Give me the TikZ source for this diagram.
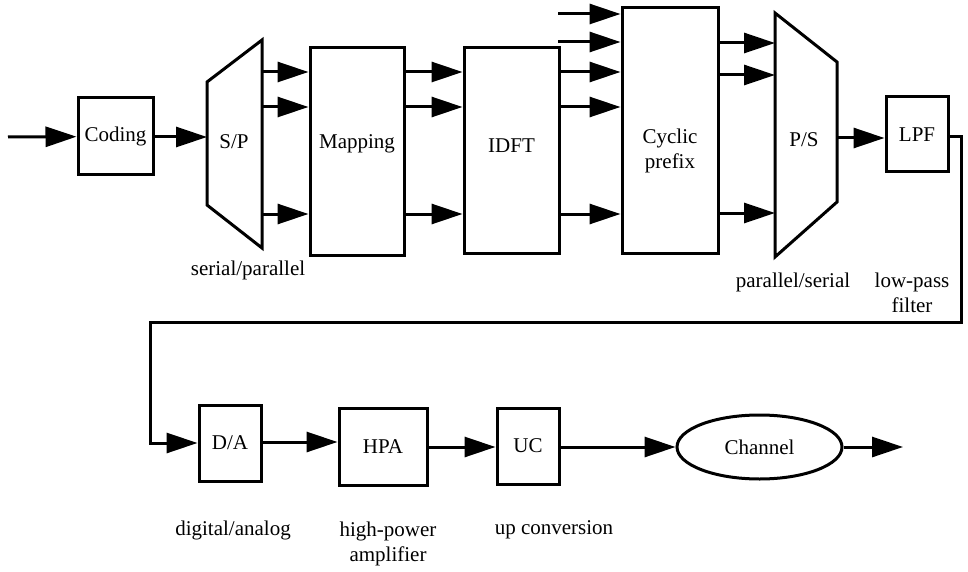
\documentclass[tikz,border=0pt]{standalone}
\usepackage{fontspec}
\setmainfont{Liberation Serif}
\usetikzlibrary{arrows.meta,shapes.geometric,calc}

\begin{document}
\begin{tikzpicture}[x=1pt,y=-1pt,
  every node/.style={font=\fontsize{21}{25}\selectfont},
  box/.style={draw,line width=3pt,inner sep=0pt},
  flow/.style={-{Triangle[length=31pt,width=20pt]},line width=3pt},
  caption/.style={align=center,inner sep=0pt}
]
\useasboundingbox (0,0) rectangle (968,572);

% ---- transmitter chain, upper row ----
\node[box,minimum width=75pt,minimum height=77pt] (coding) at (115.5,136.5) {Coding};
\coordinate (src) at (8,137);

% serial/parallel converter
\draw[line width=3pt,line join=miter] (207,82) -- (262,40) -- (262,248) -- (207,205) -- cycle;
\node (sp) at (234,142) {S/P};
\coordinate (spin) at (207,137);

\node[box,minimum width=94pt,minimum height=207pt,
      label={[yshift=8pt]center:Mapping}] (map) at (357,151.5) {};
\node[box,minimum width=95pt,minimum height=205pt,
      label={[yshift=5pt]center:IDFT}] (idft) at (511.5,150.5) {};
\node[box,minimum width=96pt,minimum height=245pt,
      label={[yshift=-20pt,align=center]center:Cyclic\\prefix}] (cp) at (670,130.5) {};

% parallel/serial converter
\draw[line width=3pt,line join=miter] (775,13) -- (837,62) -- (837,202) -- (775,257) -- cycle;
\node (ps) at (804,140) {P/S};
\coordinate (psout) at (837,138);

\node[box,minimum width=62pt,minimum height=75pt] (lpf) at (917,134.5) {LPF};

% parallel signal levels
\coordinate (a1) at (0,72);
\coordinate (a2) at (0,107);
\coordinate (a3) at (0,214);
\coordinate (b1) at (0,43);
\coordinate (b2) at (0,75);
\coordinate (b3) at (0,213);
\coordinate (e1) at (558,14);
\coordinate (e2) at (558,42);
\coordinate (sp1) at (262,72);
\coordinate (sp2) at (262,107);
\coordinate (sp3) at (262,214);
\coordinate (ps1) at (775,43);
\coordinate (ps2) at (775,75);
\coordinate (ps3) at (775,213);

\draw[flow] (src) -- (coding);
\draw[flow] (coding.east |- spin) -- (spin);
\foreach \s/\l in {sp1/a1,sp2/a2,sp3/a3}{
  \draw[flow] (\s) -- (map.west |- \l);
}
\foreach \l in {a1,a2,a3}{
  \draw[flow] (map.east |- \l) -- (idft.west |- \l);
  \draw[flow] (idft.east |- \l) -- (cp.west |- \l);
}
\draw[flow] (e1) -- (cp.west |- e1);
\draw[flow] (e2) -- (cp.west |- e2);
\foreach \p/\l in {ps1/b1,ps2/b2,ps3/b3}{
  \draw[flow] (cp.east |- \l) -- (\p);
}
\draw[flow] (psout) -- (lpf.west |- psout);

% ---- lower row ----
\node[box,minimum width=62pt,minimum height=76pt] (da) at (230,443) {D/A};
\node[box,minimum width=88pt,minimum height=77pt] (hpa) at (383,446.5) {HPA};
\node[box,minimum width=62pt,minimum height=76pt] (uc) at (528,446) {UC};
\node[draw,ellipse,line width=3pt,inner sep=0pt,minimum width=165pt,minimum height=64pt] (chan) at (759.5,447) {Channel};
\coordinate (sink) at (903,447);

\coordinate (t1) at (961,322);
\coordinate (t2) at (150,322);
\coordinate (h1) at (0,442);
\coordinate (h2) at (0,447);
\draw[flow,line join=miter] (lpf.east |- 0,137) -| (t1) -- (t2) |- (da.west);
\draw[flow] (da.east |- h1) -- (hpa.west |- h1);
\draw[flow] (hpa.east |- h2) -- (uc.west |- h2);
\draw[flow] (uc.east |- h2) -- (chan.west);
\draw[flow] (chan.east) -- (sink);

% ---- captions ----
\node[caption] (c1) at (248,270) {serial/parallel};
\node[caption] (c2) at (793,282) {parallel/serial};
\node[caption] (c3) at (912,293) {low-pass\\filter};
\node[caption] (c4) at (233,530) {digital/analog};
\node[caption] (c5) at (388,544) {high-power\\amplifier};
\node[caption] (c6) at (554,530) {up conversion};
\end{tikzpicture}
\end{document}
